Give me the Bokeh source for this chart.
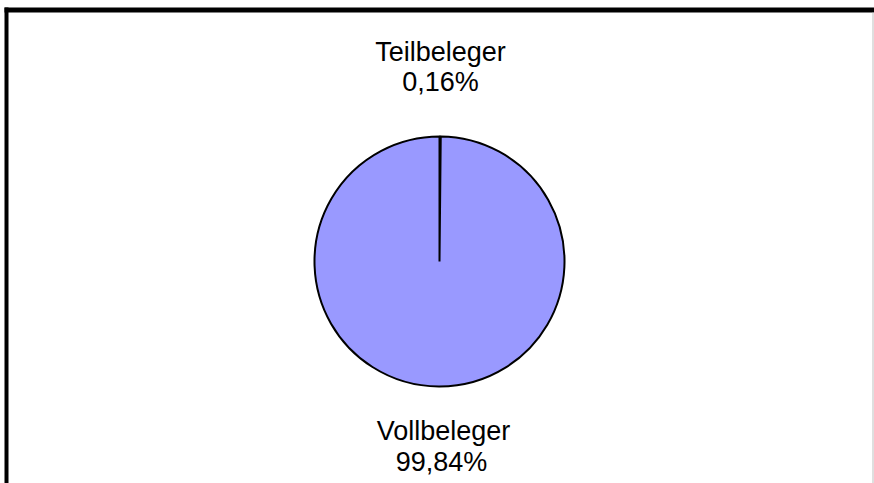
import math
from bokeh.plotting import figure
from bokeh.models import ColumnDataSource, Range1d
from bokeh.core.properties import value
from bokeh.embed import file_html
from bokeh.resources import INLINE

categories = ["Teilbeleger", "Vollbeleger"]
shares = [0.16, 99.84]
pct_labels = ["0,16%", "99,84%"]
colors = ["#993366", "#9999FF"]

W, H = 874, 483
p = figure(width=W, height=H, output_backend="svg", toolbar_location=None,
           x_range=Range1d(0, W), y_range=Range1d(0, H), min_border=0)
p.axis.visible = False
p.grid.visible = False
p.outline_line_color = None
p.background_fill_color = "white"
p.border_fill_color = "white"

total = sum(shares)
starts, ends = [], []
acc = 0.0
for s in shares:
    starts.append(math.pi / 2 - 2 * math.pi * acc / total)
    acc += s
    ends.append(math.pi / 2 - 2 * math.pi * acc / total)

cx, cy, r = 439, 222, 125
src = ColumnDataSource(dict(cat=categories, start=starts, end=ends, color=colors))
p.wedge(x=cx, y=cy, radius=r, start_angle="start", end_angle="end", direction="clock",
        fill_color="color", line_color="black", line_width=2, source=src)

# chart area border: thick black top and left, thin grey right
p.quad(left=4, right=W, bottom=471, top=476, fill_color="black", line_color=None)
p.quad(left=4, right=8, bottom=0, top=476, fill_color="black", line_color=None)
p.quad(left=872, right=873, bottom=0, top=471, fill_color="#c0c0c0", line_color=None)

font = value("Liberation Sans")
fs = "27px"
# Top label (Teilbeleger)
p.text(x=[440], y=[432], text=[categories[0]], text_font=font, text_font_size=fs,
       text_align="center", text_baseline="alphabetic", text_color="black")
p.text(x=[440], y=[402], text=[pct_labels[0]], text_font=font, text_font_size=fs,
       text_align="center", text_baseline="alphabetic", text_color="black")
# Bottom label (Vollbeleger)
p.text(x=[443], y=[53], text=[categories[1]], text_font=font, text_font_size=fs,
       text_align="center", text_baseline="alphabetic", text_color="black")
p.text(x=[441], y=[22], text=[pct_labels[1]], text_font=font, text_font_size=fs,
       text_align="center", text_baseline="alphabetic", text_color="black")

open("out.html", "w").write(file_html(p, INLINE))
